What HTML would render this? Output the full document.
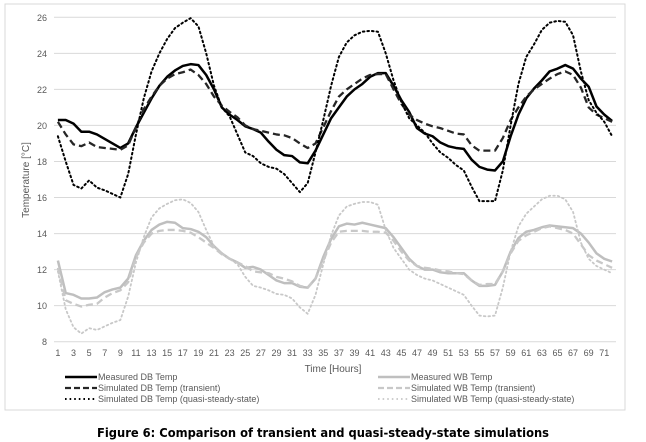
<!DOCTYPE html>
<html><head><meta charset="utf-8"><style>
html,body{margin:0;padding:0;background:#fff;}
svg{display:block;font-family:"Liberation Sans",sans-serif;}
</style></head><body>
<svg id="chart" width="646" height="442" viewBox="0 0 646 442">
<rect x="5" y="4" width="620" height="406" fill="#fff" stroke="#d9d9d9"/>
<g id="grid"></g>
<g id="yticks"></g>
<g id="xticks"></g>
<g id="series"></g>
<text x="29" y="180" transform="rotate(-90 29 180)" text-anchor="middle" font-size="10" fill="#595959">Temperature [°C]</text>
<text x="333" y="372" text-anchor="middle" font-size="10" fill="#595959">Time [Hours]</text>
<g id="legend"></g>
<text x="323" y="437" text-anchor="middle" font-family="'DejaVu Sans',sans-serif" font-weight="bold" font-size="12" textLength="452" lengthAdjust="spacingAndGlyphs" fill="#000">Figure 6: Comparison of transient and quasi-steady-state simulations</text>
</svg>
<script>
const hours = Array.from({length:72},(_,i)=>i+1);
const yTicks = [8,10,12,14,16,18,20,22,24,26];
const measuredDB = [20.3,20.3,20.1,19.65,19.65,19.5,19.25,19.0,18.75,19.0,19.9,20.7,21.5,22.2,22.7,23.05,23.3,23.4,23.35,22.8,22.0,21.0,20.6,20.3,19.95,19.8,19.6,19.1,18.65,18.35,18.3,17.95,17.9,18.6,19.5,20.4,21.0,21.6,22.0,22.3,22.7,22.9,22.9,22.2,21.4,20.75,19.85,19.55,19.4,19.05,18.85,18.75,18.7,18.1,17.7,17.55,17.5,18.0,19.4,20.6,21.5,22.05,22.5,23.0,23.15,23.35,23.15,22.6,22.15,21.05,20.6,20.25];
const transientDB = [20.2,19.5,18.95,18.85,19.05,18.8,18.75,18.7,18.65,18.9,19.9,20.9,21.6,22.2,22.6,22.85,22.95,23.1,22.8,22.3,21.6,21.1,20.75,20.45,20.0,19.8,19.7,19.6,19.5,19.45,19.3,19.0,18.75,19.0,19.9,20.8,21.6,22.0,22.3,22.6,22.8,22.85,22.85,22.0,21.2,20.6,20.3,20.1,19.95,19.85,19.7,19.55,19.5,18.9,18.6,18.6,18.6,19.3,20.3,21.0,21.6,22.0,22.3,22.6,22.85,23.0,22.8,22.1,21.0,20.6,20.4,20.2];
const quasiDB = [19.4,18.0,16.7,16.5,16.95,16.55,16.4,16.2,16.0,17.3,19.5,21.5,23.0,24.0,24.8,25.4,25.7,25.95,25.5,24.0,22.2,21.0,20.5,19.5,18.5,18.3,17.9,17.7,17.6,17.3,16.8,16.3,16.8,18.5,20.3,22.2,23.8,24.6,25.0,25.2,25.25,25.2,24.0,22.5,21.3,20.4,20.0,19.6,19.0,18.5,18.2,17.8,17.5,16.6,15.8,15.8,15.8,17.5,20.0,22.3,23.8,24.5,25.3,25.7,25.8,25.75,25.0,23.0,21.4,20.7,20.2,19.4];
const measuredWB = [12.5,10.7,10.6,10.4,10.4,10.45,10.75,10.9,11.0,11.5,12.8,13.6,14.2,14.5,14.65,14.6,14.3,14.25,14.1,13.8,13.3,12.9,12.6,12.4,12.1,12.15,12.0,11.7,11.4,11.25,11.25,11.05,11.0,11.5,12.7,13.7,14.4,14.55,14.5,14.6,14.5,14.4,14.3,13.8,13.2,12.6,12.2,12.0,12.0,11.85,11.8,11.8,11.8,11.4,11.1,11.1,11.15,11.9,13.0,13.75,14.1,14.2,14.35,14.45,14.4,14.35,14.3,14.0,13.5,12.9,12.6,12.45];
const transientWB = [12.1,10.3,10.1,9.95,10.05,10.1,10.45,10.7,10.85,11.3,12.7,13.5,14.0,14.15,14.2,14.2,14.15,14.05,13.8,13.5,13.2,12.85,12.6,12.4,12.2,11.9,11.85,11.8,11.6,11.5,11.35,11.1,11.0,11.5,12.5,13.5,14.1,14.15,14.15,14.15,14.1,14.1,14.05,13.6,13.0,12.5,12.2,12.1,12.05,11.95,11.9,11.8,11.75,11.4,11.15,11.2,11.2,11.9,12.9,13.6,13.9,14.1,14.3,14.4,14.3,14.2,14.0,13.4,12.8,12.5,12.3,12.1];
const quasiWB = [11.9,9.8,8.8,8.45,8.75,8.65,8.85,9.05,9.2,10.5,12.4,13.8,14.9,15.4,15.65,15.85,15.9,15.7,15.2,14.2,13.3,12.9,12.6,12.3,11.6,11.1,11.0,10.85,10.65,10.6,10.4,9.9,9.55,10.6,12.3,13.9,15.0,15.5,15.65,15.75,15.75,15.6,14.2,13.2,12.6,12.0,11.7,11.5,11.4,11.2,11.0,10.8,10.6,10.0,9.45,9.4,9.45,11.0,13.0,14.4,15.1,15.5,15.9,16.1,16.1,15.9,15.2,13.5,12.6,12.2,12.0,11.8];

const NS='http://www.w3.org/2000/svg';
const X0=54, X1=616, Y0=341.7, Y1=17.3, VMIN=8, VMAX=26;
const step=(X1-X0)/hours.length;
function xScale(i){return X0+step*(i+0.5);}
function yScale(v){return Y0-(v-VMIN)/(VMAX-VMIN)*(Y0-Y1);}
function mk(tag,attrs,parent){const e=document.createElementNS(NS,tag);for(const k in attrs)e.setAttribute(k,attrs[k]);parent.appendChild(e);return e;}

const grid=document.getElementById('grid'), yt=document.getElementById('yticks'), xt=document.getElementById('xticks');
yTicks.forEach(v=>{
  const l=mk('line',{x1:X0,x2:X1,y1:yScale(v),y2:yScale(v),stroke:'#d9d9d9','stroke-width':1},grid);
  
  
  const t=mk('text',{x:47,y:yScale(v)+3.5,'text-anchor':'end','font-size':9,fill:'#595959'},yt);
  t.textContent=v;
  
  
});
hours.forEach((h,i)=>{
  if(h%2===1){
    const t=mk('text',{x:xScale(i),y:356,'text-anchor':'middle','font-size':9,fill:'#595959'},xt);
    t.textContent=h;
    
    
  }
});

const seriesDefs=[
  {name:'Measured WB Temp',data:measuredWB,color:'#bfbfbf',w:2.5,dash:'',key:'measured-wb'},
  {name:'Simulated WB Temp (transient)',data:transientWB,color:'#c8c8c8',w:2.3,dash:'7,4',key:'transient-wb'},
  {name:'Simulated WB Temp (quasi-steady-state)',data:quasiWB,color:'#c8c8c8',w:1.8,dash:'1.6,3',key:'quasi-wb'},
  {name:'Measured DB Temp',data:measuredDB,color:'#000',w:2.5,dash:'',key:'measured-db'},
  {name:'Simulated DB Temp (transient)',data:transientDB,color:'#262626',w:2.3,dash:'7,4',key:'transient-db'},
  {name:'Simulated DB Temp (quasi-steady-state)',data:quasiDB,color:'#000',w:2,dash:'1.6,3',key:'quasi-db'}
];
const sg=document.getElementById('series');
seriesDefs.forEach(s=>{
  const d=s.data.map((v,i)=>(i?'L':'M')+xScale(i).toFixed(2)+' '+yScale(v).toFixed(2)).join(' ');
  const p=mk('path',{d:d,fill:'none',stroke:s.color,'stroke-width':s.w,'stroke-linejoin':'round','stroke-linecap':s.dash&&s.dash.startsWith('1.6')?'round':'butt'},sg);
  if(s.dash)p.setAttribute('stroke-dasharray',s.dash);
  
  
});

const lg=document.getElementById('legend');
const legendOrder=[
  [seriesDefs[3],65,380],[seriesDefs[4],65,391],[seriesDefs[5],65,402],
  [seriesDefs[0],378,380],[seriesDefs[1],378,391],[seriesDefs[2],378,402]
];
legendOrder.forEach(([s,x,y])=>{
  const g=mk('g',{},lg);
  
  
  const l=mk('line',{x1:x,x2:x+32,y1:y-3,y2:y-3,stroke:s.color,'stroke-width':s.w},g);
  if(s.dash)l.setAttribute('stroke-dasharray',s.dash==='7,4'?'6,3':s.dash);
  const t=mk('text',{x:x+33,y:y,'font-size':9,fill:'#595959'},g);
  t.textContent=s.name;
});
</script>
</body></html>
